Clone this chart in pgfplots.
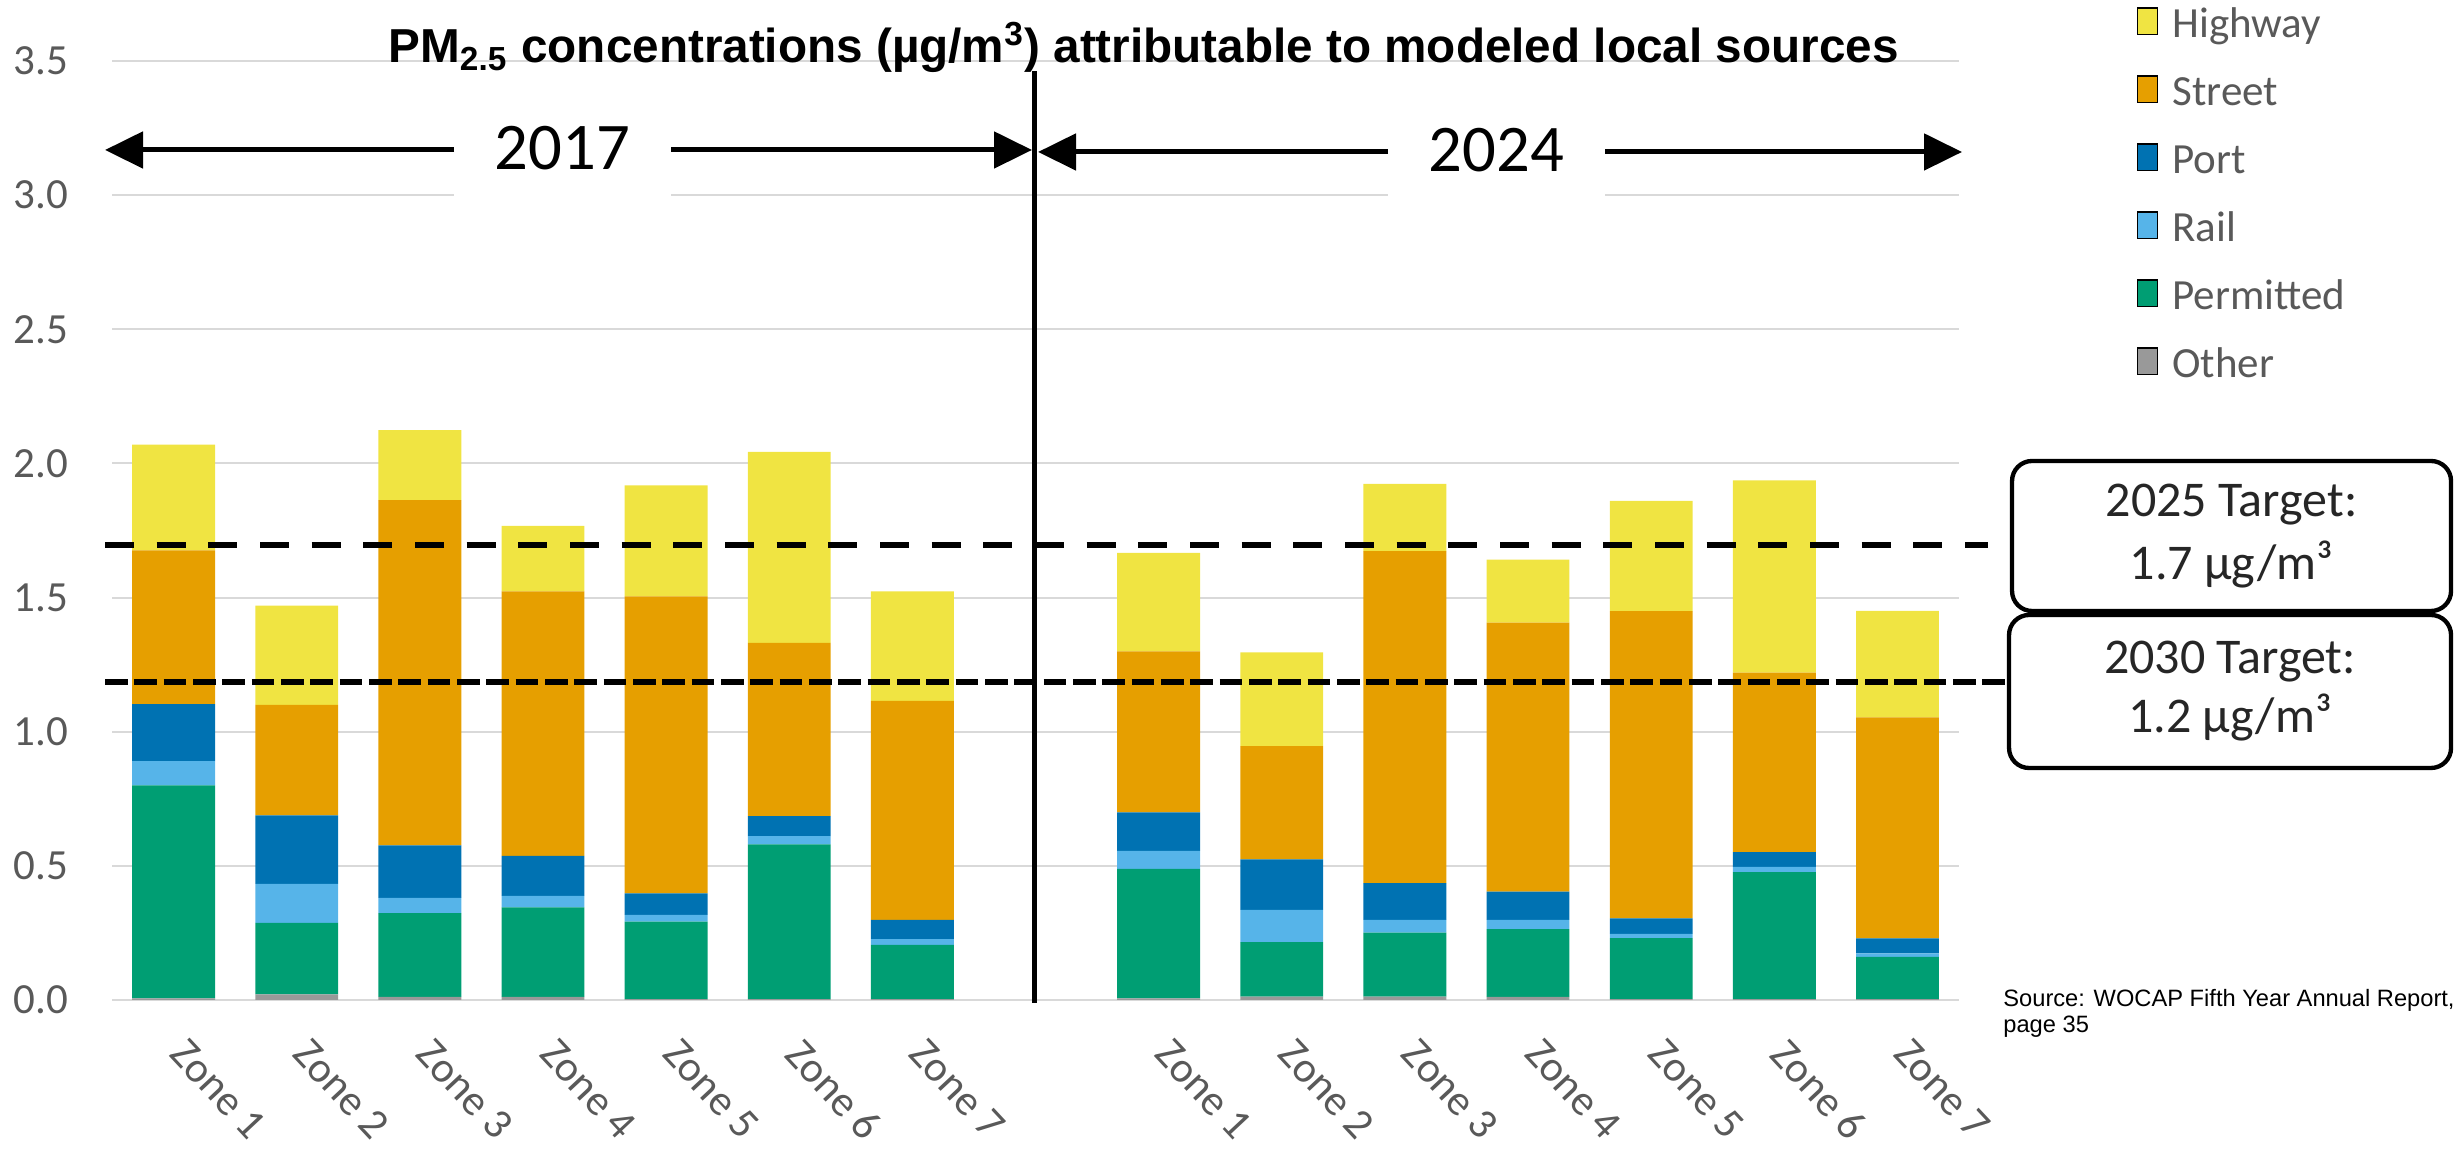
\documentclass[border=0pt]{standalone}
\usepackage{pgfplots}
\pgfplotsset{compat=1.18}
\usepackage{pgfplotstable}
\usepackage{fontspec}
\setmainfont{Carlito}
\newfontfamily\arial{Liberation Sans}
\usetikzlibrary{arrows.meta}

\definecolor{hwy}{HTML}{F0E442}
\definecolor{street}{HTML}{E69F00}
\definecolor{port}{HTML}{0072B2}
\definecolor{rail}{HTML}{56B4E9}
\definecolor{permit}{HTML}{009E73}
\definecolor{other}{HTML}{999999}
\definecolor{txtgray}{HTML}{595959}
\definecolor{gridgray}{HTML}{D9D9D9}

% 0-6 = 2017 zones, 8-14 = 2024 zones (slot 7 left empty)
\pgfplotstableread{
x  other permit rail  port  street hwy
0  0.006 0.794  0.090 0.213 0.573  0.394
1  0.021 0.266  0.146 0.255 0.412  0.370
2  0.012 0.312  0.057 0.195 1.287  0.261
3  0.012 0.333  0.043 0.149 0.986  0.244
4  0.003 0.289  0.025 0.080 1.107  0.414
5  0.003 0.577  0.031 0.074 0.646  0.712
6  0.003 0.202  0.022 0.072 0.816  0.408
8  0.006 0.483  0.067 0.143 0.600  0.368
9  0.013 0.203  0.120 0.188 0.422  0.350
10 0.013 0.238  0.048 0.137 1.237  0.251
11 0.012 0.252  0.035 0.105 1.003  0.234
12 0.003 0.228  0.015 0.058 1.145  0.411
13 0.003 0.474  0.019 0.055 0.669  0.717
14 0.003 0.158  0.013 0.056 0.823  0.397
}\zones

\begin{document}
\begin{tikzpicture}
\useasboundingbox (0,0) rectangle (738.3pt,345pt);
\begin{axis}[
  at={(33.6pt,45pt)}, anchor=south west,
  width=554.1pt, height=281.7pt, scale only axis,
  ybar stacked, bar width=0.673,
  xmin=-0.5, xmax=14.5, ymin=0, ymax=3.5,
  ytick={0,0.5,1,1.5,2,2.5,3,3.5},
  xtick={0,1,2,3,4,5,6,8,9,10,11,12,13,14},
  xticklabels={Zone 1,Zone 2,Zone 3,Zone 4,Zone 5,Zone 6,Zone 7,
               Zone 1,Zone 2,Zone 3,Zone 4,Zone 5,Zone 6,Zone 7},
  ymajorgrids, grid style={gridgray, line width=0.6pt},
  axis line style={draw=none},
  major tick length=0pt,
  yticklabel style={/pgf/number format/.cd, fixed, fixed zerofill, precision=1,
    assume math mode=true, /tikz/.cd, anchor=east, inner sep=0pt, xshift=-12.9pt,
    font=\fontsize{12.9}{15}\selectfont, text=txtgray},
  xticklabel style={rotate=-47, anchor=north west, inner sep=0pt,
    xshift=11pt, yshift=-4pt, font=\fontsize{12.9}{15}\selectfont, text=txtgray},
  /pgfplots/ybar legend/.style={/pgfplots/legend image code/.code={%
    \fill[##1, draw=none] (0pt,0.6pt) rectangle (7.5pt,8.1pt);}},
  legend style={at={(1.0964,1.0575)}, anchor=north west, draw=none, fill=none,
    inner sep=0pt, outer sep=0pt, row sep=7.9pt,
    font=\fontsize{12.9}{15}\selectfont, text=txtgray,
    nodes={inner xsep=4.2pt, inner ysep=0pt, text height=9pt, text depth=3.5pt}},
  legend cell align=left, reverse legend,
]
\addplot[fill=other, draw=none] table[x=x, y=other] {\zones};
\addplot[fill=permit, draw=none] table[x=x, y=permit] {\zones};
\addplot[fill=rail, draw=none] table[x=x, y=rail] {\zones};
\addplot[fill=port, draw=none] table[x=x, y=port] {\zones};
\addplot[fill=street, draw=none] table[x=x, y=street] {\zones};
\addplot[fill=hwy, draw=none] table[x=x, y=hwy] {\zones};
\legend{Other,Permitted,Rail,Port,Street,Highway}
\end{axis}

\begin{scope}[x=0.3pt, y=0.3pt]
  % year labels with arrows
  \fill[white] (454,940) rectangle (671,1060);
  \fill[white] (1388,940) rectangle (1605,1060);
  \draw[line width=1.5pt, -{Triangle[length=11.4pt,width=10.8pt]}] (454,1000) -- (105,1000);
  \draw[line width=1.5pt, -{Triangle[length=11.4pt,width=10.8pt]}] (671,1000) -- (1032,1000);
  \node[font=\fontsize{20}{24}\selectfont] at (562.5,1002) {2017};
  \draw[line width=1.5pt, -{Triangle[length=11.4pt,width=10.8pt]}] (1388,998) -- (1038,998);
  \draw[line width=1.5pt, -{Triangle[length=11.4pt,width=10.8pt]}] (1605,998) -- (1962,998);
  \node[font=\fontsize{20}{24}\selectfont] at (1496.5,1000) {2024};
  % divider
  \draw[line width=1.5pt] (1034,1078.5) -- (1034,147);
  % targets
  \draw[line width=1.8pt, dash pattern=on 8.7pt off 6.8pt] (105,604.8) -- (1988,604.8);
  \draw[line width=1.8pt, dash pattern=on 6.8pt off 2pt] (105,468.2) -- (2008,468.2);
  \draw[line width=1.3pt, rounded corners=6pt, fill=white] (2012,689) rectangle (2451,539);
  \node[align=center, text=black!85, font=\fontsize{15}{18.9}\selectfont] at (2231.5,614)
    {2025 Target:\\1.7 µg/m³};
  \draw[line width=1.3pt, rounded corners=6pt, fill=white] (2009,535) rectangle (2451,382);
  \node[align=center, text=black!85, font=\fontsize{15}{17.7}\selectfont] at (2230,458.5)
    {2030 Target:\\1.2 µg/m³};
  % title
  \node[anchor=base, font=\arial\bfseries\fontsize{14.3}{17}\selectfont] at (1143.5,1087)
    {PM\textsubscript{2.5} concentrations (µg/m\textsuperscript{3}) attributable to modeled local sources};
  % source
  \node[anchor=base west, inner sep=0pt, font=\arial\fontsize{7.1}{8}\selectfont] at (2002.7,143.3)
    {Source: WOCAP Fifth Year Annual Report,};
  \node[anchor=base west, inner sep=0pt, font=\arial\fontsize{7.1}{8}\selectfont] at (2002.7,117.3)
    {page 35};
\end{scope}
\end{tikzpicture}
\end{document}
